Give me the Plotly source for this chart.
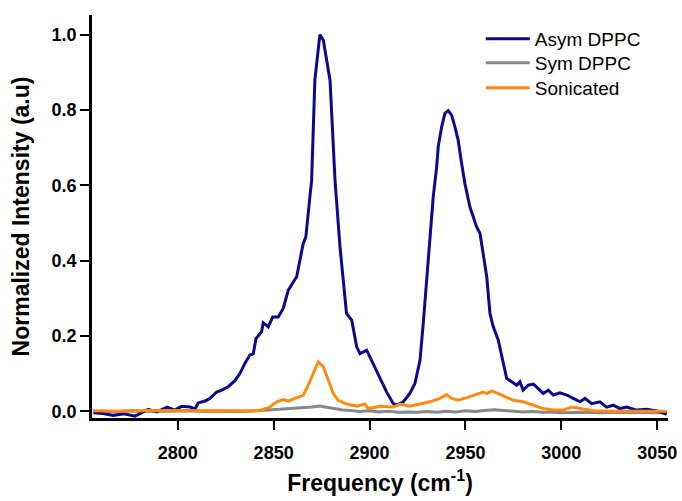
import plotly.graph_objects as go

# Asym DPPC
asym_x = [2756, 2761, 2766.4, 2772, 2777.7, 2784.6, 2789, 2794.5, 2798.5, 2802, 2806.4, 2809, 2810.7,
          2814.2, 2816.8, 2820.3, 2822.9, 2826.3, 2829.8, 2832.4, 2835, 2837.6, 2839.4, 2840.8, 2843.7,
          2844.6, 2847.2, 2849.5, 2852.4, 2855, 2857.6, 2860.2, 2862, 2865.4, 2866.8, 2868.9, 2869.8,
          2871.5, 2874.1, 2875.9, 2879.4, 2882, 2884.6, 2888, 2890.7, 2893.3, 2895, 2898.5, 2901.1,
          2905.4, 2909, 2912.4, 2914.1, 2917.6, 2921, 2923.7, 2926.3, 2928, 2929.8, 2931.5, 2933.2,
          2935, 2935.8, 2937.6, 2939.3, 2941, 2942.8, 2944.5, 2946.2, 2948, 2949.7, 2952.3, 2954.1,
          2955.8, 2957.6, 2959.3, 2961.1, 2962.8, 2964.5, 2967.1, 2969.7, 2971.5, 2974.1, 2976.7,
          2978.4, 2980.1, 2982.7, 2985.4, 2988, 2990.6, 2993.2, 2995.8, 2999.3, 3002.8, 3006.2,
          3009.7, 3012.3, 3015.8, 3020.1, 3023.6, 3027, 3030.5, 3034, 3039.3, 3044.5, 3049.7, 3054.9]
asym_y = [-0.004, -0.006, -0.011, -0.007, -0.013, 0.005, -0.002, 0.011, 0.003, 0.013, 0.011, 0.006, 0.022,
          0.027, 0.034, 0.051, 0.056, 0.065, 0.081, 0.100, 0.127, 0.149, 0.153, 0.193, 0.211,
          0.235, 0.224, 0.250, 0.250, 0.273, 0.321, 0.343, 0.357, 0.445, 0.463, 0.569, 0.613,
          0.879, 1.000, 0.985, 0.879, 0.613, 0.436, 0.259, 0.242, 0.171, 0.153, 0.162, 0.135,
          0.090, 0.050, 0.020, 0.016, 0.025, 0.047, 0.074, 0.135, 0.233, 0.348, 0.463, 0.569,
          0.649, 0.702, 0.755, 0.791, 0.798, 0.786, 0.755, 0.720, 0.658, 0.605, 0.543, 0.516,
          0.490, 0.472, 0.410, 0.357, 0.259, 0.224, 0.189, 0.127, 0.087, 0.078, 0.069,
          0.078, 0.056, 0.069, 0.072, 0.060, 0.047, 0.056, 0.043, 0.049, 0.043, 0.034,
          0.025, 0.034, 0.020, 0.025, 0.011, 0.016, 0.007, 0.011, 0.003, 0.005, 0.001, -0.008]

# Sym DPPC
sym_x = [2756, 2765, 2775, 2785, 2795, 2805, 2815, 2825, 2835, 2845, 2850, 2855, 2860, 2865, 2870,
         2874, 2878, 2882, 2886, 2890, 2895, 2900, 2905, 2910, 2915, 2920, 2925, 2930, 2935, 2940,
         2945, 2950, 2955, 2960, 2965, 2970, 2975, 2980, 2985, 2990, 2995, 3000, 3010, 3020, 3030,
         3040, 3050, 3055]
sym_y = [0.000, -0.002, 0.001, -0.001, 0.000, 0.001, -0.001, 0.000, -0.001, 0.002, 0.003, 0.006, 0.008, 0.009, 0.011,
         0.014, 0.010, 0.005, 0.003, 0.002, -0.001, 0.001, -0.002, 0.000, -0.003, -0.002, -0.003, -0.001, -0.003, 0.000,
         -0.002, 0.001, -0.001, 0.002, 0.004, 0.002, 0.000, -0.002, -0.001, -0.003, -0.002, -0.004, -0.003, -0.004, -0.003,
         -0.004, -0.005, -0.004]

# Sonicated
son_x = [2756, 2770, 2785, 2800, 2815, 2830, 2838, 2842.9, 2848, 2851.6, 2855, 2857.6, 2861.1, 2865.4,
         2868, 2870.6, 2873.3, 2875.9, 2878.5, 2881.1, 2883.7, 2888.1, 2893.3, 2897.6, 2899.3, 2905.4,
         2912.4, 2915.9, 2921, 2926.3, 2931.5, 2936.7, 2940.2, 2942.8, 2946.2, 2950.6, 2955.8, 2959.3,
         2961.1, 2963.7, 2967.1, 2971.5, 2974.9, 2980.1, 2985.4, 2990.6, 2995.8, 3001, 3005.4, 3009.7,
         3016.6, 3027, 3041, 3054.9]
son_y = [0.001, 0.000, 0.002, 0.001, 0.000, 0.001, 0.001, 0.002, 0.011, 0.025, 0.031, 0.027, 0.034, 0.042,
         0.069, 0.100, 0.131, 0.118, 0.082, 0.047, 0.029, 0.019, 0.013, 0.019, 0.007, 0.013,
         0.011, 0.019, 0.013, 0.020, 0.025, 0.034, 0.044, 0.034, 0.029, 0.036, 0.045, 0.051,
         0.047, 0.054, 0.047, 0.038, 0.029, 0.025, 0.016, 0.007, 0.003, 0.003, 0.011, 0.007,
         0.001, 0.000, 0.000, 0.000]

x_ticks = [2800, 2850, 2900, 2950, 3000, 3050]
y_ticks = [0.0, 0.2, 0.4, 0.6, 0.8, 1.0]
y_ticklabels = ["0.0", "0.2", "0.4", "0.6", "0.8", "1.0"]

FONT = "Liberation Sans, Arial"

fig = go.Figure()
fig.add_trace(go.Scatter(x=sym_x, y=sym_y, mode="lines", name="Sym DPPC", showlegend=True,
                         line=dict(color="#888888", width=3), legend="legend2"))
fig.add_trace(go.Scatter(x=asym_x, y=asym_y, mode="lines", name="Asym DPPC", showlegend=True,
                         line=dict(color="#0a0a8c", width=3), legend="legend"))
fig.add_trace(go.Scatter(x=son_x, y=son_y, mode="lines", name="Sonicated", showlegend=True,
                         line=dict(color="#ff8a12", width=3), legend="legend3"))

axis_common = dict(showline=True, linecolor="black", linewidth=2.5, ticks="outside",
                   ticklen=9, tickwidth=2, tickcolor="black", showgrid=False, zeroline=False,
                   automargin=False,
                   tickfont=dict(family=FONT, size=18, color="black", weight="bold"))

leg_common = dict(x=0.675, xanchor="left", yanchor="middle", bgcolor="rgba(0,0,0,0)",
                  itemwidth=44, font=dict(family=FONT, size=19, color="black"))

fig.update_layout(
    width=682, height=501,
    margin=dict(l=92, r=14, t=15, b=83),
    plot_bgcolor="white", paper_bgcolor="white",
    showlegend=True,
    xaxis=dict(range=[2755.3, 3055.6], tickvals=x_ticks, ticklabelstandoff=8, **axis_common,
               title=dict(text="Frequency (cm<sup>-1</sup>)", standoff=13,
                          font=dict(family=FONT, size=23, color="black", weight="bold"))),
    yaxis=dict(range=[-0.018, 1.052], tickvals=y_ticks, ticktext=y_ticklabels, **axis_common,
               title=dict(text="Normalized Intensity (a.u)", standoff=16,
                          font=dict(family=FONT, size=23, color="black", weight="bold"))),
    legend=dict(y=0.9404, **leg_common),
    legend2=dict(y=0.8809, **leg_common),
    legend3=dict(y=0.8189, **leg_common),
)

fig.write_html("out.html")
